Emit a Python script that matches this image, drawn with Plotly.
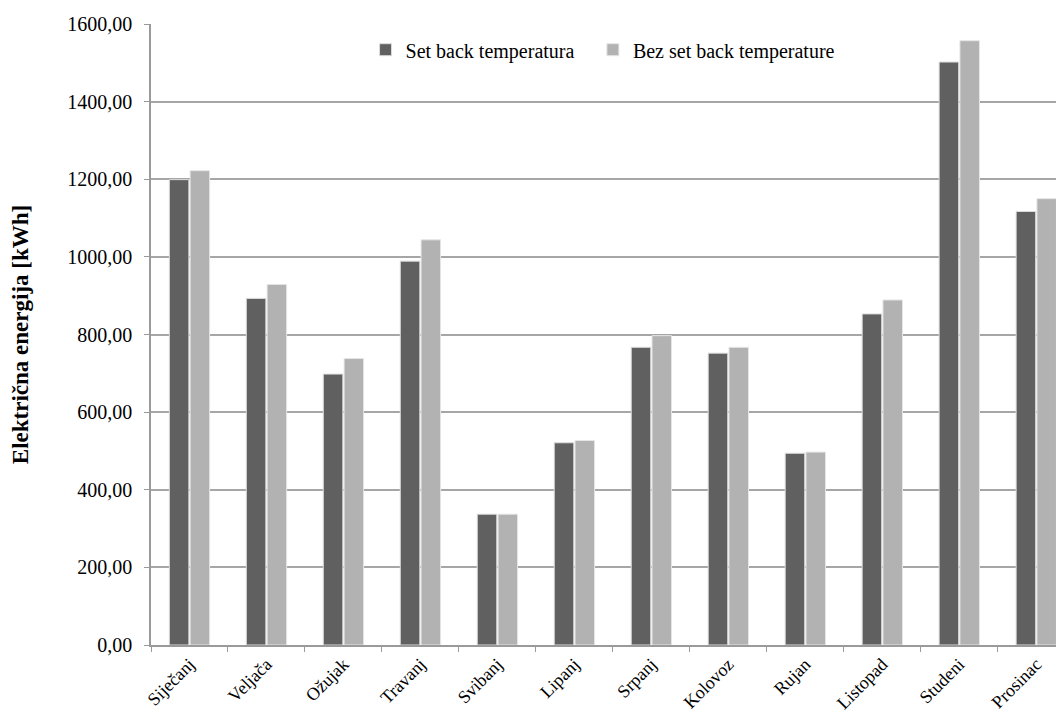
import plotly.graph_objects as go

months = ["Siječanj", "Veljača", "Ožujak", "Travanj", "Svibanj", "Lipanj",
          "Srpanj", "Kolovoz", "Rujan", "Listopad", "Studeni", "Prosinac"]
set_back = [1199, 893, 698, 989, 337, 521, 767, 752, 494, 853, 1502, 1117]
bez_set_back = [1222, 929, 738, 1044, 337, 527, 797, 767, 497, 889, 1557, 1150]

y_tick_vals = [0, 200, 400, 600, 800, 1000, 1200, 1400, 1600]
y_tick_text = ["0,00", "200,00", "400,00", "600,00", "800,00", "1000,00",
               "1200,00", "1400,00", "1600,00"]

SERIF = "Liberation Serif, Times New Roman, serif"

fig = go.Figure()
fig.add_trace(go.Bar(name="Set back temperatura", x=months, y=set_back, legend="legend",
                     marker=dict(color="#606060", line=dict(color="#dcdcdc", width=1))))
fig.add_trace(go.Bar(name="Bez set back temperature", x=months, y=bez_set_back, legend="legend2",
                     marker=dict(color="#b2b2b2", line=dict(color="#e6e6e6", width=1))))

legend_style = dict(orientation="h", xanchor="left", y=0.99, yanchor="top",
                    font=dict(family=SERIF, size=20, color="black"),
                    bgcolor="rgba(0,0,0,0)", itemwidth=30)

fig.update_layout(
    width=1056, height=705,
    margin=dict(l=143, r=0, t=16, b=65),
    paper_bgcolor="white", plot_bgcolor="white",
    barmode="group", bargap=0.46, bargroupgap=0.06,
    font=dict(family=SERIF, color="black", size=15),
    legend=dict(x=0.235, **legend_style),
    legend2=dict(x=0.484, **legend_style),
    showlegend=True,
)
fig.update_xaxes(
    range=[-0.5, 11.36], tickangle=-45, tickson="boundaries",
    ticks="outside", ticklen=5, tickcolor="#9a9a9a",
    showline=True, linecolor="#9a9a9a", linewidth=1.5,
    showgrid=False, tickfont=dict(family=SERIF, size=18, color="black"),
)
fig.update_yaxes(
    range=[0, 1600], tickvals=y_tick_vals, ticktext=y_tick_text,
    ticks="outside", ticklen=5, tickcolor="#9a9a9a",
    showline=True, linecolor="#9a9a9a", linewidth=1.5,
    showgrid=True, gridcolor="#a6a6a6", gridwidth=1.5, zeroline=False,
    tickfont=dict(family=SERIF, size=20, color="black"), ticklabelstandoff=8,
    title=dict(text="<b>Električna energija [kWh]</b>",
               font=dict(family=SERIF, size=23, color="black"), standoff=36),
)

fig.write_html("out.html")
